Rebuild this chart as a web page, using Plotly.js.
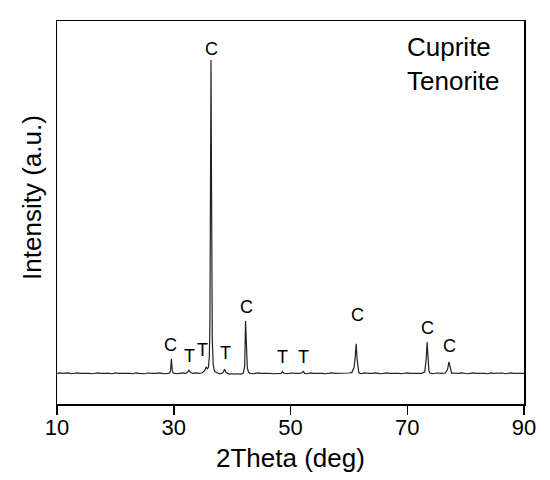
<!DOCTYPE html>
<html>
<head>
<meta charset="utf-8">
<script src="https://cdn.plot.ly/plotly-3.0.1.min.js"></script>
<style>
  html, body { margin: 0; padding: 0; background: #fff; }
  #xrd { width: 550px; height: 480px; }
</style>
</head>
<body>
<div id="xrd"></div>
<script>
// ------------------- data -------------------------------------------
var twoTheta = [
  10, 10.5, 11, 11.5, 12, 12.5, 13, 13.5, 14, 14.5, 15, 15.5, 16, 16.5, 17, 17.5, 18, 18.5, 19, 19.5,
  20, 20.5, 21, 21.5, 22, 22.5, 23, 23.5, 24, 24.5, 25, 25.5, 26, 26.5, 27, 27.5, 28, 28.5, 29, 29.3,
  29.45, 29.6, 29.75, 29.9, 30.2, 30.5, 31, 31.5, 32, 32.3, 32.6, 32.9, 33.3, 33.8, 34.3, 34.8, 35.1, 35.35,
  35.55, 35.75, 35.95, 36.1, 36.2, 36.3, 36.38, 36.45, 36.52, 36.6, 36.75, 36.9, 37.1, 37.4, 37.8, 38.2,
  38.5, 38.7, 38.9, 39.2, 39.6, 40, 40.5, 41, 41.5, 41.9, 42.15, 42.3, 42.45, 42.6, 42.8, 43.1, 43.5,
  44, 44.5, 45, 45.5, 46, 46.5, 47, 47.5, 48, 48.4, 48.6, 48.8, 49.1, 49.5, 50, 50.5, 51, 51.5, 51.9,
  52.2, 52.4, 52.7, 53.1, 53.5, 54, 54.5, 55, 55.5, 56, 56.5, 57, 57.5, 58, 58.5, 59, 59.5, 60, 60.5,
  60.9, 61.1, 61.25, 61.4, 61.55, 61.7, 61.9, 62.2, 62.6, 63, 63.5, 64, 64.5, 65, 65.5, 66, 66.5, 67,
  67.5, 68, 68.5, 69, 69.5, 70, 70.5, 71, 71.5, 72, 72.5, 73, 73.25, 73.4, 73.55, 73.7, 73.85, 74.1,
  74.5, 75, 75.5, 76, 76.5, 76.9, 77.15, 77.3, 77.45, 77.6, 77.9, 78.3, 78.8, 79.3, 79.8, 80.3, 80.8,
  81.3, 81.8, 82.3, 82.8, 83.3, 83.8, 84.3, 84.8, 85.3, 85.8, 86.3, 86.8, 87.3, 87.8, 88.3, 88.8, 89.3, 90
];
var intensity = [
  80, 81, 80, 80, 81, 79, 80, 81, 80, 80, 81, 80, 79, 80, 81, 80, 80, 81, 80, 79,
  81, 80, 80, 80, 81, 80, 79, 81, 80, 80, 79, 81, 80, 80, 80, 81, 80, 79, 80, 81,
  88, 118, 87, 81, 80, 79, 80, 81, 80, 82, 88, 82, 80, 81, 80, 81, 84, 89,
  97, 92, 96, 125, 210, 520, 898, 640, 330, 170, 105, 90, 84, 81, 79, 80,
  83, 91, 84, 80, 78, 79, 78, 79, 78, 80, 98, 217, 150, 95, 83, 80, 79,
  80, 81, 80, 80, 81, 80, 79, 80, 81, 80, 85, 81, 80, 79, 81, 80, 80, 80,
  81, 85, 80, 79, 80, 81, 80, 80, 81, 80, 79, 80, 81, 80, 80, 80, 81, 80, 81,
  82, 96, 125, 157, 118, 90, 82, 80, 79, 81, 80, 80, 80, 81, 80, 79, 80, 81,
  80, 80, 81, 80, 79, 80, 81, 80, 80, 80, 81, 80, 84, 118, 162, 112, 88, 81,
  80, 79, 81, 80, 80, 81, 90, 110, 97, 84, 80, 81, 80, 80, 81, 80, 79,
  80, 81, 80, 80, 81, 80, 79, 81, 80, 80, 80, 81, 79, 80, 81, 80, 80, 79, 80
];

// peak markers: C = cuprite, T = tenorite
var peakX = [29.5, 32.7, 35.0, 38.9, 36.5, 42.5, 48.6, 52.2, 61.5, 73.4, 77.2];
var peakY = [154, 126, 141, 134, 927, 253, 123, 123, 233, 199, 152];
var peakText = ["C", "T", "T", "T", "C", "C", "T", "T", "C", "C", "C"];

var phaseNames = ["Cuprite", "Tenorite"];

var xTicks = [10, 30, 50, 70, 90];

// ------------------- build figure ----------------------
var font = "Liberation Sans, Arial, sans-serif";

var annotations = [];
for (var i = 0; i < peakX.length; i++) {
  annotations.push({
    x: peakX[i], y: peakY[i], xref: "x", yref: "y",
    text: peakText[i], showarrow: false,
    font: {family: font, size: 18, color: "#000"}
  });
}
annotations.push({
  x: 0.745, y: 0.976, xref: "paper", yref: "paper",
  xanchor: "left", yanchor: "top", align: "left",
  text: phaseNames.join("<br>"), showarrow: false,
  font: {family: font, size: 26, color: "#000"}
});
// axis titles placed by hand (the y title sits a bit above the centre)
annotations.push({
  x: 0.5, y: -0.142, xref: "paper", yref: "paper",
  xanchor: "center", yanchor: "middle",
  text: "2Theta (deg)", showarrow: false,
  font: {family: font, size: 26, color: "#000"}
});
annotations.push({
  x: -0.055, y: 0.539, xref: "paper", yref: "paper", textangle: -90,
  xanchor: "center", yanchor: "middle",
  text: "Intensity (a.u.)", showarrow: false,
  font: {family: font, size: 26, color: "#000"}
});

var trace = {
  x: twoTheta, y: intensity,
  type: "scatter", mode: "lines",
  line: {color: "#222", width: 1.2},
  hoverinfo: "skip"
};

var layout = {
  width: 550, height: 480,
  margin: {l: 57, r: 26, t: 21, b: 76},
  paper_bgcolor: "#fff", plot_bgcolor: "#fff",
  showlegend: false,
  font: {family: font, color: "#000"},
  xaxis: {
    range: [10, 90], tickvals: xTicks, ticktext: xTicks.map(String),
    ticks: "outside", ticklen: 9, tickwidth: 1.5, tickcolor: "#000",
    ticklabelstandoff: -6,
    showline: true, linecolor: "#000", linewidth: 1.5, mirror: true,
    showgrid: false, zeroline: false,
    tickfont: {family: font, size: 22, color: "#000"}
  },
  yaxis: {
    range: [0, 1000],
    showticklabels: false, ticks: "",
    showline: true, linecolor: "#000", linewidth: 1.5, mirror: true,
    showgrid: false, zeroline: false
  },
  annotations: annotations
};

Plotly.newPlot("xrd", [trace], layout, {displayModeBar: false, staticPlot: true});
</script>
</body>
</html>
